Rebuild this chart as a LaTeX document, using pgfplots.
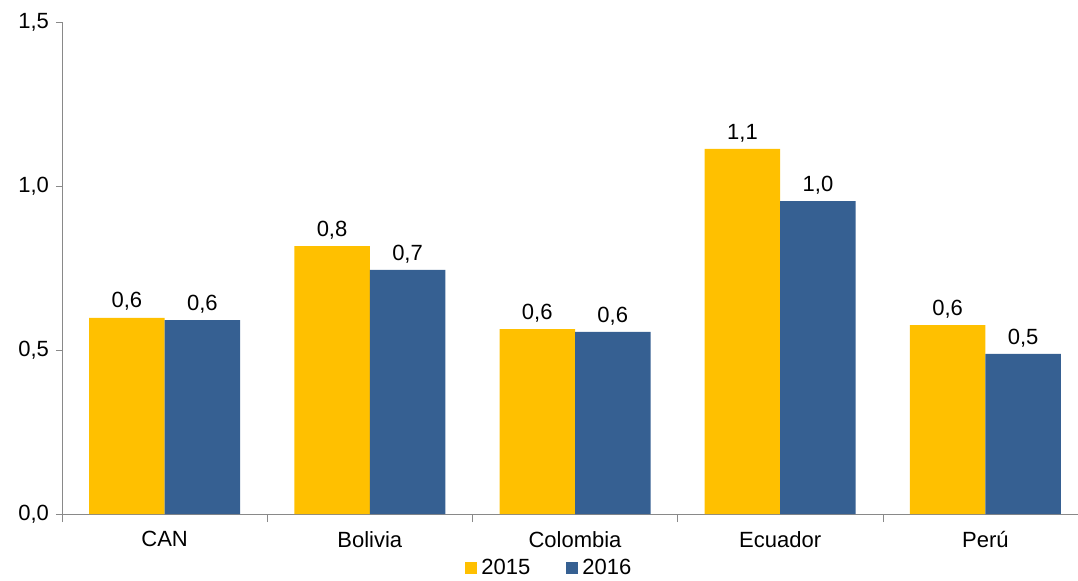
\documentclass[border=0pt]{standalone}
\usepackage{pgfplots}
\pgfplotsset{compat=1.18}
\usepackage{fontspec}
\setmainfont{Liberation Sans}
\definecolor{cyel}{HTML}{FFC000}
\definecolor{cblu}{HTML}{366092}
\definecolor{cax}{HTML}{898989}
\begin{document}
\begin{tikzpicture}
\begin{axis}[
  scale only axis, width=513pt, height=246pt,
  xmin=-0.5, xmax=4.5, ymin=0, ymax=1.5,
  ybar=0pt, bar width=37.75pt,
  axis lines=left, axis line style={draw=cax, -},
  xtick={0,1,2,3,4},
  xticklabels={CAN,Bolivia,Colombia,Ecuador,Perú},
  minor xtick={-0.5,0.5,1.5,2.5,3.5,4.5},
  major x tick style={draw=none},
  minor x tick style={draw=cax},
  minor tick length=4pt,
  ytick={0,0.5,1,1.5},
  y tick style={draw=cax},
  major tick length=3pt,
  tick align=outside,
  yticklabel style={/pgf/number format/.cd, fixed, fixed zerofill, precision=1, use comma, assume math mode=true},
  ticklabel style={font=\fontsize{11}{12}\selectfont},
  xticklabel style={yshift=-2pt},
  nodes near coords,
  every node near coord/.append style={font=\fontsize{11}{12}\selectfont, /pgf/number format/.cd, fixed, fixed zerofill, precision=1, use comma, assume math mode=true},
  legend style={at={(0.476,-0.078)}, anchor=north, draw=none, legend columns=2, font=\fontsize{11}{12}\selectfont,
    inner sep=1pt, /tikz/every even column/.append style={column sep=16pt}},
  legend image code/.code={\fill[#1] (0pt,-3pt) rectangle (6pt,3pt);},
  clip=false,
]
\addplot[fill=cyel, draw=none] coordinates {(0,0.598) (1,0.817) (2,0.564) (3,1.113) (4,0.576)};
\addplot[fill=cblu, draw=none] coordinates {(0,0.591) (1,0.744) (2,0.555) (3,0.954) (4,0.488)};
\legend{2015,2016}
\end{axis}
\pgfresetboundingbox
\path[use as bounding box] ([xshift=-31pt,yshift=-33pt]current axis.south west) rectangle ([xshift=-5pt,yshift=11pt]current axis.north east);
\end{tikzpicture}
\end{document}
